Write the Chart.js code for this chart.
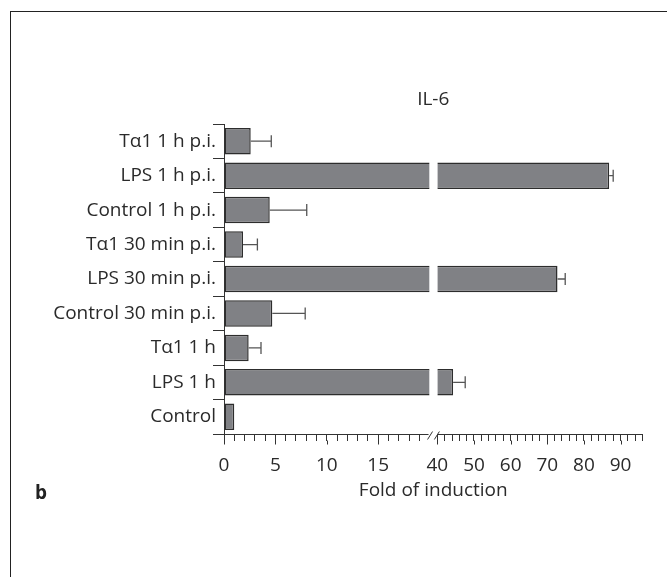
<!DOCTYPE html>
<html lang="en">
<head>
  <meta charset="UTF-8" />
  <title>IL-6 fold of induction</title>
  <script src="https://cdn.jsdelivr.net/npm/chart.js"></script>
  <style>
    body { margin: 0; background: #fff; font-family: "Open Sans", sans-serif; }
    #wrap { position: relative; width: 667px; height: 577px; overflow: hidden; }
    #frame { position: absolute; left: 10px; top: 11px; width: 700px; height: 600px;
             border-top: 1px solid #222; border-left: 1px solid #222; }
    #panel { position: absolute; left: 35px; top: 479px; font-weight: bold; font-size: 19px; color: #222; }
    canvas { position: absolute; left: 0; top: 0; }
  </style>
</head>
<body>
  <div id="wrap">
    <div id="frame"></div>
    <canvas id="il6" width="667" height="577"></canvas>
    <div id="panel">b</div>
  </div>

  <script>
    const categories = [
      'T\u03b11 1 h p.i.', 'LPS 1 h p.i.', 'Control 1 h p.i.',
      'T\u03b11 30 min p.i.', 'LPS 30 min p.i.', 'Control 30 min p.i.',
      'T\u03b11 1 h', 'LPS 1 h', 'Control'
    ];
    const foldValues = [2.6, 86.9, 4.45, 1.85, 72.8, 4.7, 2.4, 44.3, 1.0];
    const errValues  = [2.0, 1.1, 3.6, 1.4, 2.1, 3.2, 1.2, 3.3, 0];

    // axis is broken between 20 and 40
    const tickValues = [0, 1, 2, 3, 4, 5, 6, 7, 8, 9, 10, 11, 12, 13, 14, 15, 16, 17, 18, 19,
                        40, 42, 44, 46, 48, 50, 52, 54, 56, 58, 60, 62, 64, 66, 68, 70,
                        72, 74, 76, 78, 80, 82, 84, 86, 88, 90, 92, 94, 96];
    const majorTicks = [0, 5, 10, 15, 40, 50, 60, 70, 80, 90];

    const LOW_END = 20, HIGH_START = 40, GAP = 0.76, SQUEEZE = 0.3564;
    function toAxis(v) {
      return v <= LOW_END ? v : LOW_END + GAP + (v - HIGH_START) * SQUEEZE;
    }

    const lowPart = foldValues.map(v => [0, Math.min(v, LOW_END)]);
    const highPart = foldValues.map(v => v > HIGH_START ? [toAxis(HIGH_START), toAxis(v)] : null);

    const ink = '#2a2a2a';
    const font19 = { family: '"Open Sans", sans-serif', size: 19 };

    const extras = {
      id: 'extras',
      afterDatasetsDraw(chart) {
        const { ctx } = chart;
        const x = chart.scales.x;
        const low = chart.getDatasetMeta(0), high = chart.getDatasetMeta(1);
        ctx.save();
        ctx.strokeStyle = '#555';
        ctx.lineWidth = 1.3;
        foldValues.forEach((v, i) => {
          if (!errValues[i]) return;
          const bar = (v > HIGH_START ? high : low).data[i];
          const x0 = x.getPixelForValue(toAxis(v));
          const x1 = x.getPixelForValue(toAxis(v + errValues[i]));
          const y = bar.y;
          ctx.beginPath();
          ctx.moveTo(x0, y); ctx.lineTo(x1, y);
          ctx.moveTo(x1, y - 6); ctx.lineTo(x1, y + 6);
          ctx.stroke();
        });
        ctx.restore();
      },
      afterDraw(chart) {
        const { ctx, chartArea } = chart;
        const x = chart.scales.x;
        const yb = Math.round(chartArea.bottom) + 0.5;
        const xa = x.getPixelForValue(0);
        const xb = x.getPixelForValue(LOW_END) - 1;
        const xc = x.getPixelForValue(toAxis(HIGH_START));
        const xd = x.right;
        ctx.save();
        ctx.strokeStyle = '#333';
        ctx.lineWidth = 1;
        ctx.beginPath();
        ctx.moveTo(xa, yb); ctx.lineTo(xb, yb);
        ctx.moveTo(xc, yb); ctx.lineTo(xd, yb);
        // break marks
        ctx.moveTo(xb - 1, yb + 5); ctx.lineTo(xb + 4, yb - 3);
        ctx.moveTo(xc - 3, yb + 5); ctx.lineTo(xc + 2, yb - 3);
        // longer major ticks
        majorTicks.forEach(m => {
          const px = Math.round(x.getPixelForValue(toAxis(m))) + 0.5;
          ctx.moveTo(px, yb + 6); ctx.lineTo(px, yb + 10);
        });
        ctx.stroke();

        ctx.fillStyle = ink;
        ctx.font = '19px "Open Sans", sans-serif';
        ctx.textAlign = 'center';
        ctx.textBaseline = 'middle';
        ctx.fillText('IL-6', (chartArea.left + chartArea.right) / 2, 100);
        ctx.restore();
      }
    };

    new Chart(document.getElementById('il6'), {
      type: 'bar',
      data: {
        labels: categories,
        datasets: [
          {
            data: lowPart,
            grouped: false,
            backgroundColor: '#808185',
            borderColor: '#2d2d2d',
            borderWidth: 1.5,
            borderSkipped: ctx => foldValues[ctx.dataIndex] > HIGH_START ? 'right' : false,
            categoryPercentage: 1,
            barPercentage: 0.77
          },
          {
            data: highPart,
            grouped: false,
            backgroundColor: '#808185',
            borderColor: '#2d2d2d',
            borderWidth: 1.5,
            borderSkipped: 'left',
            categoryPercentage: 1,
            barPercentage: 0.77
          }
        ]
      },
      options: {
        indexAxis: 'y',
        responsive: false,
        animation: false,
        devicePixelRatio: 1,
        layout: { padding: { top: 124, right: 24.5, left: 0, bottom: 0 } },
        plugins: {
          legend: { display: false },
          tooltip: { enabled: false }
        },
        scales: {
          x: {
            type: 'linear',
            min: 0,
            max: toAxis(96),
            afterBuildTicks: scale => { scale.ticks = tickValues.map(v => ({ value: toAxis(v) })); },
            afterFit: scale => { scale.height = 143; },
            border: { display: false },
            grid: { drawOnChartArea: false, tickLength: 7, color: '#333', lineWidth: 1 },
            ticks: {
              autoSkip: false,
              maxRotation: 0,
              minRotation: 0,
              padding: 13,
              color: ink,
              font: font19,
              callback: (val, idx) => majorTicks.includes(tickValues[idx]) ? String(tickValues[idx]) : ''
            },
            title: {
              display: true,
              text: 'Fold of induction',
              color: ink,
              font: font19,
              padding: { top: 0, bottom: 75 }
            }
          },
          y: {
            afterFit: scale => { scale.width = 224; },
            border: { display: true, color: '#333', width: 1 },
            grid: { drawOnChartArea: false, offset: true, tickLength: 11, color: '#333' },
            ticks: { padding: -3, color: ink, font: font19 }
          }
        }
      },
      plugins: [extras]
    });
  </script>
</body>
</html>
